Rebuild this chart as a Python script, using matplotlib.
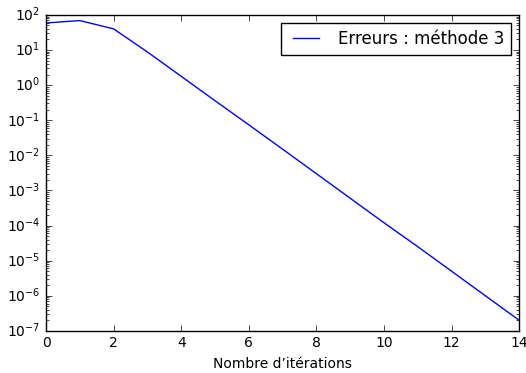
import numpy as np
import matplotlib
matplotlib.use('Agg')
import matplotlib.pyplot as plt

# itérations et erreurs
iterations = [0, 1, 2, 3, 4, 5, 6, 7, 8, 9, 10, 11, 12, 13, 14]
erreurs = [59, 69, 40, 8.8, 1.78, 0.36, 0.074, 0.015, 3.0e-3, 6.0e-4,
           1.2e-4, 2.5e-5, 5.0e-6, 1.0e-6, 2.0e-7]

plt.style.use('classic')
fig = plt.figure(figsize=(5.26, 3.73), dpi=100, facecolor='white')
ax = fig.add_axes([0.0875, 0.113, 0.8995, 0.847])
ax.semilogy(iterations, erreurs, color='b', label='Erreurs : méthode 3')
ax.set_xlim(0, 14)
ax.set_ylim(1e-7, 1e2)
ax.set_xlabel('Nombre d’itérations', fontsize=10)
ax.tick_params(labelsize=10)
ax.legend(loc='upper right', fontsize=12, handlelength=2.2)

fig.savefig('out.png', dpi=100, facecolor='white')
